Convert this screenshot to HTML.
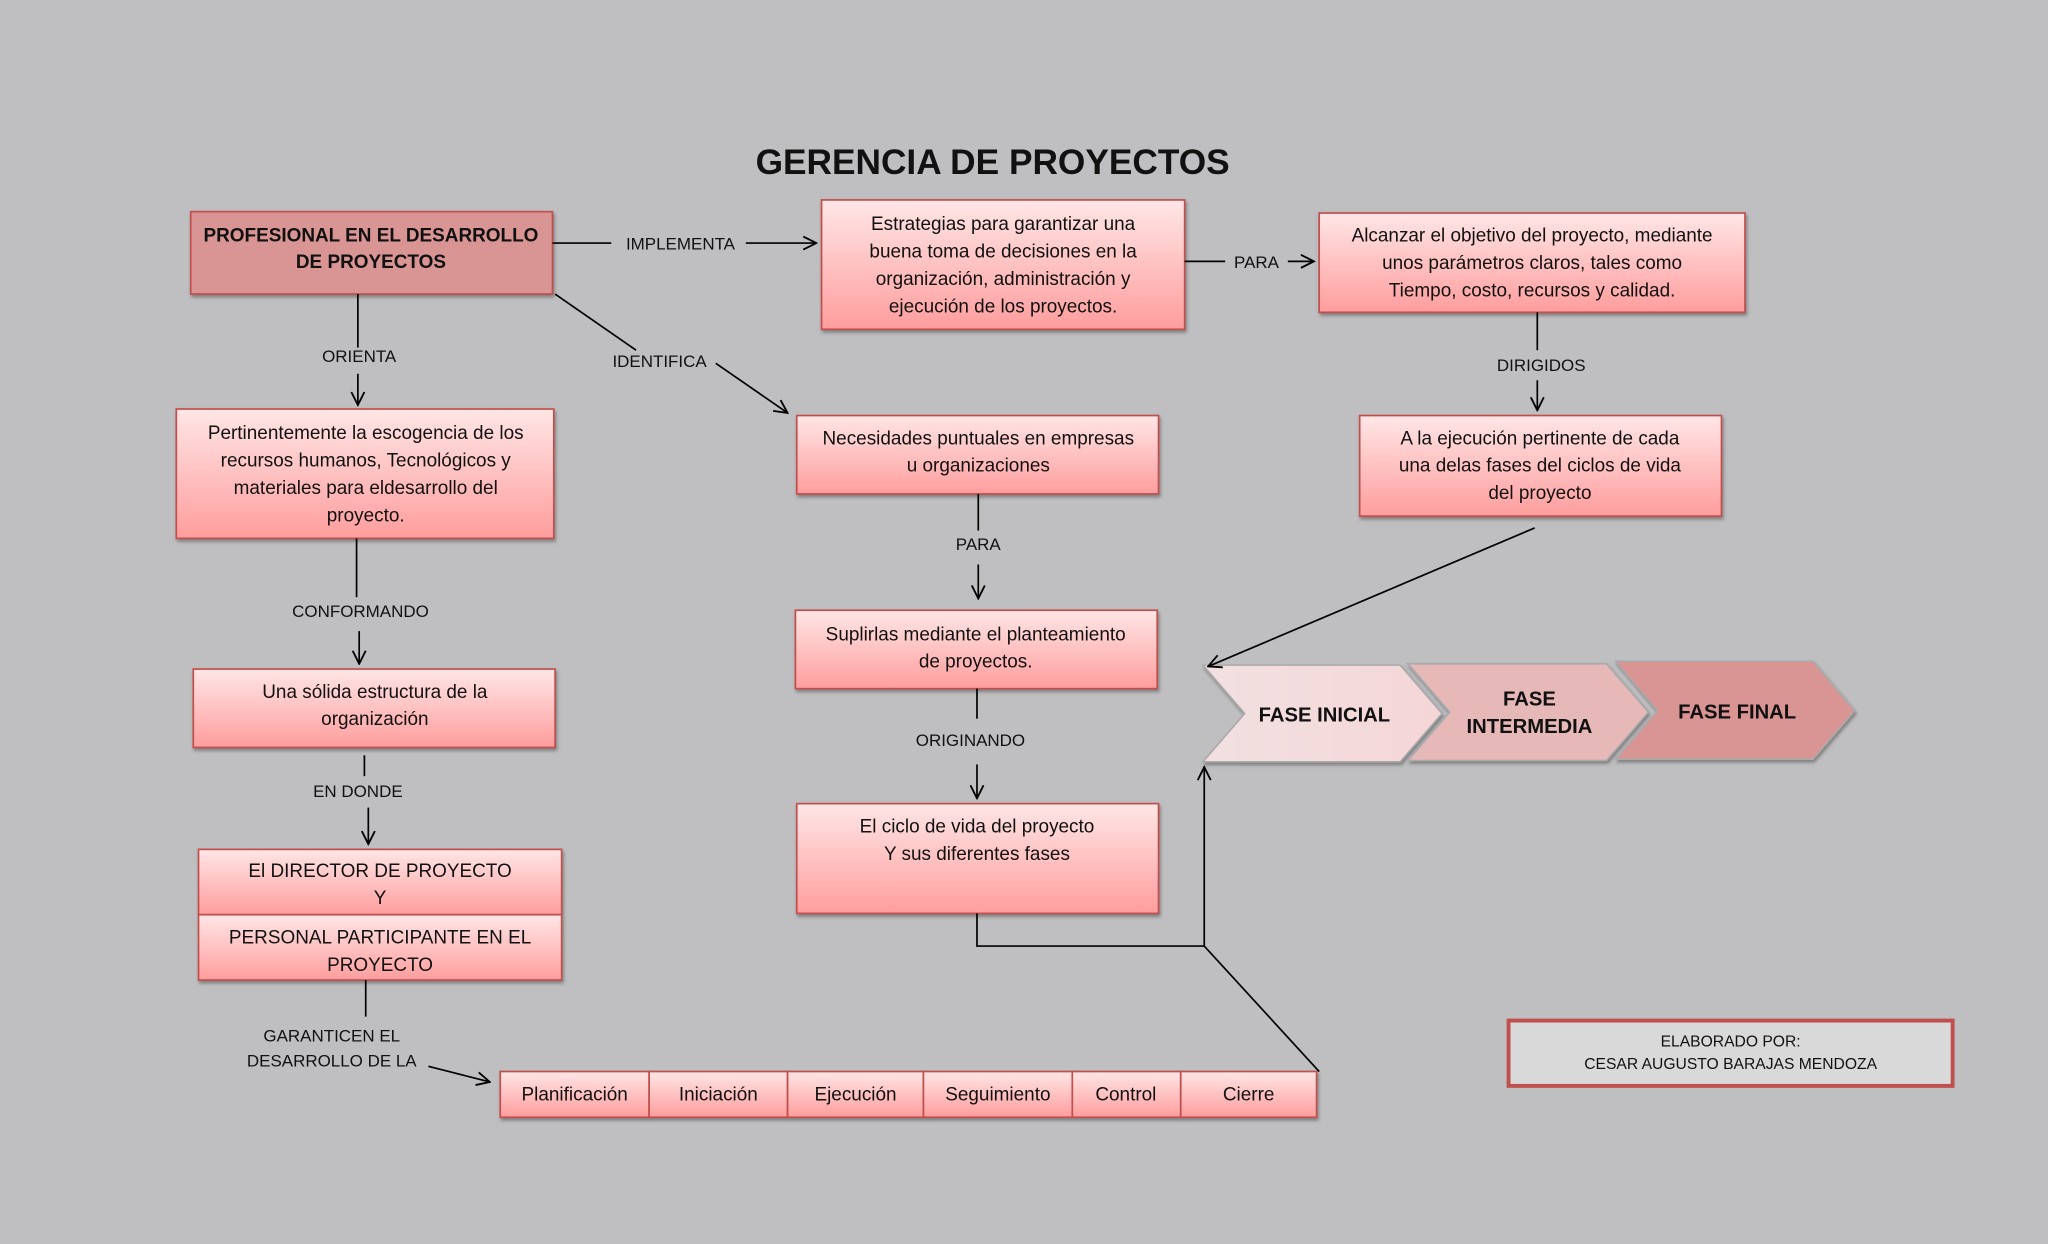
<!DOCTYPE html>
<html><head><meta charset="utf-8"><style>
html,body{margin:0;padding:0;background:#bfbfc1;}
svg{display:block;font-family:"Liberation Sans",sans-serif;}
</style></head><body>
<svg width="2048" height="1244" viewBox="0 0 1568 952" preserveAspectRatio="none" xmlns="http://www.w3.org/2000/svg">
<defs>
<linearGradient id="g" x1="0" y1="0" x2="0" y2="1"><stop offset="0" stop-color="#ffe6e6"/><stop offset="1" stop-color="#ff9d9d"/></linearGradient>
<linearGradient id="c1" x1="0" y1="0" x2="1" y2="0"><stop offset="0" stop-color="#f2e0e0"/><stop offset="1" stop-color="#f5d6d8"/></linearGradient>
<filter id="sh" x="-10%" y="-10%" width="120%" height="130%"><feDropShadow dx="1" dy="2" stdDeviation="1.2" flood-color="#555" flood-opacity="0.6"/></filter>
<marker id="a" viewBox="0 0 12 12" refX="11" refY="6" markerWidth="12" markerHeight="12" markerUnits="userSpaceOnUse" orient="auto"><path d="M1,1 L11,6 L1,11" fill="none" stroke="#000" stroke-width="1.4"/></marker>
</defs>
<rect width="1568" height="952" fill="#bfbfc1"/>
<text x="760" y="133" text-anchor="middle" font-size="27" font-weight="bold" fill="#111">GERENCIA DE PROYECTOS</text>

<g stroke="#c0504d" stroke-width="1.3" filter="url(#sh)">
<rect x="146" y="162" width="277" height="63" fill="#d99594"/>
<rect x="629" y="153" width="278" height="99" fill="url(#g)"/>
<rect x="1010" y="163" width="326" height="76" fill="url(#g)"/>
<rect x="135" y="313" width="289" height="99" fill="url(#g)"/>
<rect x="610" y="318" width="277" height="60" fill="url(#g)"/>
<rect x="1041" y="318" width="277" height="77" fill="url(#g)"/>
<rect x="609" y="467" width="277" height="60" fill="url(#g)"/>
<rect x="148" y="512" width="277" height="60" fill="url(#g)"/>
<rect x="610" y="615" width="277" height="84" fill="url(#g)"/>
<rect x="152" y="650" width="278" height="50" fill="url(#g)"/>
<rect x="152" y="700" width="278" height="50" fill="url(#g)"/>
<rect x="383" y="820" width="114" height="35" fill="url(#g)"/>
<rect x="497" y="820" width="106" height="35" fill="url(#g)"/>
<rect x="603" y="820" width="104" height="35" fill="url(#g)"/>
<rect x="707" y="820" width="114" height="35" fill="url(#g)"/>
<rect x="821" y="820" width="83" height="35" fill="url(#g)"/>
<rect x="904" y="820" width="104" height="35" fill="url(#g)"/>
</g>
<g stroke="#aaa" stroke-width="1.2" filter="url(#sh)">
<polygon points="921,509 1072,509 1104,546 1072,583 921,583 953,546" fill="url(#c1)"/>
<polygon points="1078,508 1230,508 1262,545 1230,582 1078,582 1110,545" fill="#e6b8b8"/>
<polygon points="1237,506 1388,506 1420,544 1388,581 1237,581 1269,544" fill="#d99594"/>
</g>
<rect x="1155" y="781" width="340" height="50" fill="#d9d9d9" stroke="#c0504d" stroke-width="3"/>

<g fill="#111" font-size="14.5" text-anchor="middle">
<text x="284" y="185" font-weight="bold">PROFESIONAL EN EL DESARROLLO</text>
<text x="284" y="205" font-weight="bold">DE PROYECTOS</text>
<text x="768" y="176">Estrategias para garantizar una</text>
<text x="768" y="197">buena toma de decisiones  en la</text>
<text x="768" y="218">organización, administración y</text>
<text x="768" y="239">ejecución de los proyectos.</text>
<text x="1173" y="185">Alcanzar el objetivo del proyecto, mediante</text>
<text x="1173" y="206">unos parámetros claros, tales como</text>
<text x="1173" y="227">Tiempo, costo, recursos y calidad.</text>
<text x="280" y="336">Pertinentemente la escogencia de los</text>
<text x="280" y="357">recursos  humanos, Tecnológicos y</text>
<text x="280" y="378">materiales para eldesarrollo del</text>
<text x="280" y="399">proyecto.</text>
<text x="749" y="340">Necesidades puntuales en empresas</text>
<text x="749" y="361">u organizaciones</text>
<text x="1179" y="340">A  la ejecución pertinente de  cada</text>
<text x="1179" y="361">una delas fases del  ciclos de vida</text>
<text x="1179" y="382">del proyecto</text>
<text x="747" y="490">Suplirlas mediante el planteamiento</text>
<text x="747" y="511">de proyectos.</text>
<text x="287" y="534">Una sólida estructura de la</text>
<text x="287" y="555">organización</text>
<text x="748" y="637">El ciclo de vida del proyecto</text>
<text x="748" y="658">Y sus diferentes fases</text>
<text x="291" y="671">El DIRECTOR DE PROYECTO</text>
<text x="291" y="692">Y</text>
<text x="291" y="722">PERSONAL PARTICIPANTE EN EL</text>
<text x="291" y="743">PROYECTO</text>
<text x="440" y="842">Planificación</text>
<text x="550" y="842">Iniciación</text>
<text x="655" y="842">Ejecución</text>
<text x="764" y="842">Seguimiento</text>
<text x="862" y="842">Control</text>
<text x="956" y="842">Cierre</text>
</g>
<g fill="#111" font-size="15.5" font-weight="bold" text-anchor="middle">
<text x="1014" y="552">FASE INICIAL</text>
<text x="1171" y="540">FASE</text>
<text x="1171" y="561">INTERMEDIA</text>
<text x="1330" y="550">FASE FINAL</text>
</g>
<g fill="#111" font-size="13" text-anchor="middle">
<text x="521" y="191">IMPLEMENTA</text>
<text x="962" y="205">PARA</text>
<text x="275" y="277">ORIENTA</text>
<text x="505" y="281">IDENTIFICA</text>
<text x="1180" y="284">DIRIGIDOS</text>
<text x="276" y="472">CONFORMANDO</text>
<text x="749" y="421">PARA</text>
<text x="743" y="571">ORIGINANDO</text>
<text x="274" y="610">EN DONDE</text>
<text x="254" y="797">GARANTICEN EL</text>
<text x="254" y="816">DESARROLLO DE  LA</text>
<text x="1325" y="801" font-size="12">ELABORADO POR:</text>
<text x="1325" y="818" font-size="12">CESAR AUGUSTO BARAJAS MENDOZA</text>
</g>

<g stroke="#000" stroke-width="1.3" fill="none">
<line x1="423" y1="186" x2="468" y2="186"/>
<line x1="571" y1="186" x2="625" y2="186" marker-end="url(#a)"/>
<line x1="907" y1="200" x2="938" y2="200"/>
<line x1="986" y1="200" x2="1006" y2="200" marker-end="url(#a)"/>
<line x1="274" y1="225" x2="274" y2="266"/>
<line x1="274" y1="286" x2="274" y2="310" marker-end="url(#a)"/>
<line x1="425" y1="225" x2="487" y2="268"/>
<line x1="548" y1="278" x2="603" y2="316" marker-end="url(#a)"/>
<line x1="1177" y1="239" x2="1177" y2="268"/>
<line x1="1177" y1="291" x2="1177" y2="314" marker-end="url(#a)"/>
<line x1="273" y1="412" x2="273" y2="457"/>
<line x1="275" y1="483" x2="275" y2="508" marker-end="url(#a)"/>
<line x1="749" y1="378" x2="749" y2="406"/>
<line x1="749" y1="432" x2="749" y2="458" marker-end="url(#a)"/>
<line x1="748" y1="527" x2="748" y2="550"/>
<line x1="748" y1="585" x2="748" y2="611" marker-end="url(#a)"/>
<line x1="279" y1="578" x2="279" y2="594"/>
<line x1="282" y1="618" x2="282" y2="646" marker-end="url(#a)"/>
<line x1="280" y1="750" x2="280" y2="778"/>
<line x1="328" y1="816" x2="375" y2="828" marker-end="url(#a)"/>
<polyline points="748,699 748,724 922,724"/>
<line x1="922" y1="724" x2="922" y2="587" marker-end="url(#a)"/>
<line x1="922" y1="724" x2="1010" y2="820"/>
<line x1="1175" y1="404" x2="925" y2="510" marker-end="url(#a)"/>
</g>
</svg>
</body></html>
